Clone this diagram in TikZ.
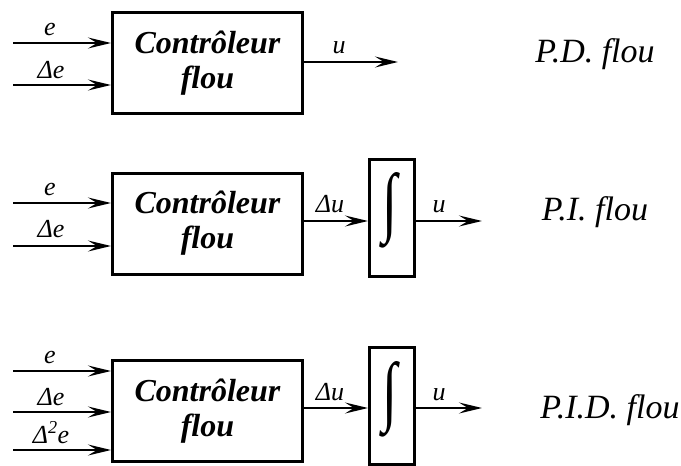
\documentclass[tikz,border=0pt]{standalone}
\usepackage{fontspec}
\setmainfont{Liberation Serif}
\usetikzlibrary{arrows.meta}
\begin{document}
\begin{tikzpicture}[x=1pt,y=-1pt,
 ctrl/.style={draw,line width=3pt,minimum width=190pt,minimum height=101pt,
   font=\fontsize{32}{35}\selectfont\bfseries\itshape,align=center,inner sep=0pt},
 integ/.style={draw,line width=3pt,minimum width=45pt,minimum height=117pt,inner sep=0pt},
 intsign/.style={inner sep=0pt},
 sig/.style={line width=2pt,-{Stealth[length=23pt,width=11pt,inset=9pt]}},
 lbl/.style={font=\fontsize{26}{26}\selectfont\itshape,inner sep=0pt,anchor=base},
 ttl/.style={font=\fontsize{34}{34}\selectfont\itshape,inner sep=0pt,anchor=base}]
\useasboundingbox (0,0) rectangle (681,466);

% ---------- P.D. flou ----------
\node[ctrl] (c1) at (207.5,63) {Contrôleur\\flou};
\coordinate (a1) at (13,43);
\coordinate (b1) at (13,85);
\coordinate (u1) at (398,62);
\draw[sig] (a1) -- (a1 -| c1.west);
\draw[sig] (b1) -- (b1 -| c1.west);
\draw[sig] (u1 -| c1.east) -- (u1);
\node[lbl] (le1) at (50,35) {e};
\node[lbl] (lde1) at (51,78) {Δe};
\node[lbl] (lu1) at (339,53) {u};
\node[ttl] (t1) at (595,62) {P.D. flou};

% ---------- P.I. flou ----------
\node[ctrl] (c2) at (207.5,223.5) {Contrôleur\\flou};
\node[integ] (i2) at (392,218) {};
\node[intsign] (s2) at (390,210) {\resizebox{15pt}{55pt}{∫}};
\coordinate (a2) at (13,203);
\coordinate (b2) at (13,246);
\coordinate (m2) at (0,221);
\coordinate (u2) at (482,221);
\draw[sig] (a2) -- (a2 -| c2.west);
\draw[sig] (b2) -- (b2 -| c2.west);
\draw[sig] (m2 -| c2.east) -- (m2 -| i2.west);
\draw[sig] (u2 -| i2.east) -- (u2);
\node[lbl] (le2) at (50,195) {e};
\node[lbl] (lde2) at (51,237) {Δe};
\node[lbl] (ldu2) at (330,212) {Δu};
\node[lbl] (lu2) at (439,212) {u};
\node[ttl] (t2) at (595,220) {P.I. flou};

% ---------- P.I.D. flou ----------
\node[ctrl] (c3) at (207.5,411) {Contrôleur\\flou};
\node[integ] (i3) at (392,406) {};
\node[intsign] (s3) at (390,399) {\resizebox{15pt}{55pt}{∫}};
\coordinate (a3) at (13,371);
\coordinate (b3) at (13,412);
\coordinate (d3) at (13,450);
\coordinate (m3) at (0,408);
\coordinate (u3) at (482,408);
\draw[sig] (a3) -- (a3 -| c3.west);
\draw[sig] (b3) -- (b3 -| c3.west);
\draw[sig] (d3) -- (d3 -| c3.west);
\draw[sig] (m3 -| c3.east) -- (m3 -| i3.west);
\draw[sig] (u3 -| i3.east) -- (u3);
\node[lbl] (le3) at (50,363) {e};
\node[lbl] (lde3) at (51,405) {Δe};
\node[lbl] (ldde3) at (51,443) {Δ\textsuperscript{2}e};
\node[lbl] (ldu3) at (330,400) {Δu};
\node[lbl] (lu3) at (439,400) {u};
\node[ttl] (t3) at (610,418) {P.I.D. flou};
\end{tikzpicture}
\end{document}
